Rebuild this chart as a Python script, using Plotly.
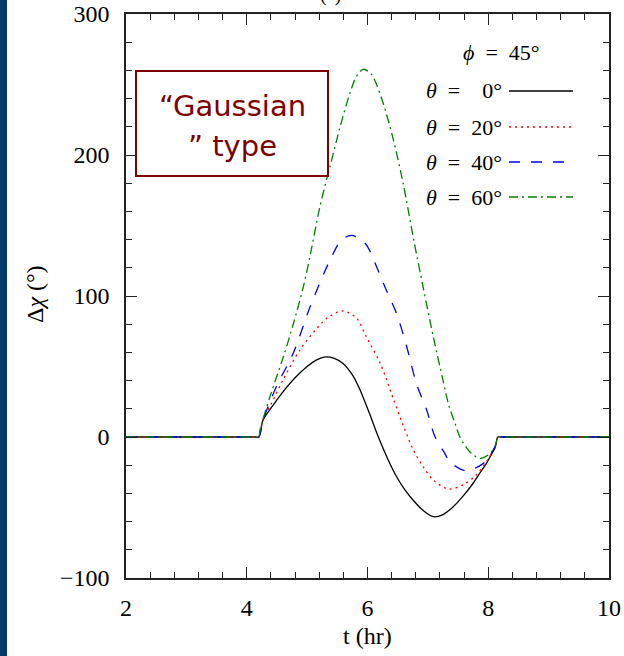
import plotly.graph_objects as go

# ---- data ----
t_th0 = [2, 4.15, 4.2, 4.27, 4.44, 4.6, 4.8, 5.0, 5.15, 5.28, 5.45, 5.6, 5.75, 5.87, 6.03, 6.18, 6.33, 6.48, 6.62, 6.76, 6.92, 7.09, 7.25, 7.42, 7.6, 7.75, 7.87, 7.97, 8.05, 8.11, 8.16, 8.2, 10]
v_th0 = [0, 0, 0, 12, 22.7, 32, 42, 50, 54.5, 56.7, 55.8, 52, 44, 34, 17, 0, -15, -28, -37.5, -45, -52, -56.5, -55, -49.4, -41, -32.8, -25, -18.7, -12.5, -8, 0, 0, 0]

t_th20 = [2, 4.15, 4.2, 4.27, 4.41, 4.6, 4.88, 5.16, 5.35, 5.59, 5.82, 5.98, 6.21, 6.43, 6.62, 6.76, 6.92, 7.09, 7.34, 7.58, 7.8, 7.97, 8.11, 8.16, 8.2, 10]
v_th20 = [0, 0, 0, 12.5, 23.9, 40.4, 61.7, 77, 85, 89.4, 84.2, 71.1, 52.3, 27, 5, -9.2, -21, -30.5, -36.9, -34, -27, -17.5, -7, 0, 0, 0]

t_th40 = [2, 4.15, 4.2, 4.27, 4.49, 4.77, 5.05, 5.38, 5.57, 5.74, 5.96, 6.15, 6.31, 6.48, 6.65, 6.81, 6.98, 7.12, 7.28, 7.36, 7.63, 7.92, 8.03, 8.11, 8.16, 8.2, 10]
v_th40 = [0, 0, 0, 12, 35.7, 59.4, 92.4, 125.5, 139.7, 143, 137.4, 120.8, 104.3, 87.7, 64, 38, 19.1, 0, -11.6, -17.5, -23.9, -18.7, -12.8, -7, 0, 0, 0]

t_th60 = [2, 4.15, 4.2, 4.22, 4.38, 4.6, 4.77, 4.94, 5.07, 5.21, 5.38, 5.54, 5.71, 5.82, 5.93, 6.05, 6.12, 6.26, 6.43, 6.59, 6.76, 6.92, 7.09, 7.25, 7.35, 7.45, 7.53, 7.61, 7.72, 7.86, 8.0, 8.11, 8.16, 8.2, 10]
v_th60 = [0, 0, 0, 5, 28, 56, 80, 107, 133, 163, 192, 219, 244, 256, 260.8, 258, 253, 236.7, 210.6, 180, 141, 106.6, 71.1, 40.4, 22, 9.7, 0, -5.7, -11.6, -15.1, -12.8, -7, 0, 0, 0]

series_labels = ["<i>θ</i>\u2002=\u2002\u20070°", "<i>θ</i>\u2002=\u200220°", "<i>θ</i>\u2002=\u200240°", "<i>θ</i>\u2002=\u200260°"]
phi_label = "<i>ϕ</i>\u2002=\u200245°"
x_ticks = [2, 4, 6, 8, 10]
y_ticks = [-100, 0, 100, 200, 300]

series = [
    (t_th0, v_th0, "#000000", "solid"),
    (t_th20, v_th20, "#ff0000", "2px,4px"),
    (t_th40, v_th40, "#0000ff", "11px,11px"),
    (t_th60, v_th60, "#008000", "9px,4px,2px,4px"),
]

SERIF = "Liberation Serif"

fig = go.Figure()
for t, v, c, d in series:
    fig.add_trace(go.Scatter(x=t, y=v, mode="lines", showlegend=False,
                             line=dict(color=c, width=1.3, dash=d, shape="spline", smoothing=0.9)))

# plot-area geometry (pixels) used to place decorations in paper coordinates
L, R, T, B = 126, 609, 14, 578
W, H = R - L, B - T
def px(x):
    return (x - L) / W
def py(y):
    return (B - y) / H

shapes = []
shapes.append(dict(type="rect", xref="paper", yref="paper", x0=px(0), x1=px(7), y0=py(660), y1=py(-4),
                   fillcolor="#003a6c", line=dict(width=0), layer="below"))
shapes.append(dict(type="rect", xref="paper", yref="paper", x0=px(136), x1=px(328), y0=py(176), y1=py(71),
                   fillcolor="white", line=dict(color="#800000", width=2)))
rows = [91, 127, 162, 197]
for (t, v, c, d), ry in zip(series, rows):
    shapes.append(dict(type="line", xref="paper", yref="paper", x0=px(509), x1=px(573), y0=py(ry), y1=py(ry),
                       line=dict(color=c, width=1.3, dash=d)))

ann = []
ann.append(dict(text=phi_label, xref="paper", yref="paper", x=px(501), y=py(52), showarrow=False,
                xanchor="center", yanchor="middle", font=dict(family=SERIF, size=22, color="black")))
for lab, ry in zip(series_labels, rows):
    ann.append(dict(text=lab, xref="paper", yref="paper", x=px(504), y=py(ry), showarrow=False,
                    xanchor="right", yanchor="middle", font=dict(family=SERIF, size=22, color="black")))
ann.append(dict(text="\u201cGaussian", xref="paper", yref="paper", x=px(232), y=py(106), showarrow=False,
                xanchor="center", yanchor="middle", font=dict(family="DejaVu Sans", size=29, color="#800000")))
ann.append(dict(text="\u201d type", xref="paper", yref="paper", x=px(232), y=py(146), showarrow=False,
                xanchor="center", yanchor="middle", font=dict(family="DejaVu Sans", size=29, color="#800000")))
ann.append(dict(text="t (hr)", xref="paper", yref="paper", x=px(367), y=py(636), showarrow=False,
                xanchor="center", yanchor="middle", font=dict(family=SERIF, size=24, color="black")))
ann.append(dict(text="Δ<i>χ</i> (°)", xref="paper", yref="paper", x=px(35), y=py(294), showarrow=False,
                textangle=-90, xanchor="center", yanchor="middle", font=dict(family=SERIF, size=24, color="black")))
ann.append(dict(text="(°)", xref="paper", yref="paper", x=px(330), y=py(8), showarrow=False,
                xanchor="center", yanchor="bottom", font=dict(family=SERIF, size=20, color="black")))

fig.update_layout(
    width=624, height=656,
    margin=dict(l=L, r=624 - R, t=T, b=656 - B, autoexpand=False),
    plot_bgcolor="white", paper_bgcolor="white",
    shapes=shapes, annotations=ann,
    showlegend=False,
)
common = dict(ticks="inside", ticklen=11, tickwidth=1, tickcolor="#222", showline=True, linecolor="#222",
              linewidth=1.5, mirror="allticks", showgrid=False, zeroline=False, automargin=False,
              tickfont=dict(family=SERIF, size=24, color="black"))
fig.update_xaxes(range=[2, 10], tickvals=x_ticks, ticklabelstandoff=7,
                 minor=dict(dtick=0.4, tick0=2, ticks="inside", ticklen=6, tickcolor="#222", showgrid=False),
                 **common)
fig.update_yaxes(range=[-100, 300], tickvals=y_ticks, ticklabelstandoff=10,
                 minor=dict(dtick=20, tick0=0, ticks="inside", ticklen=6, tickcolor="#222", showgrid=False),
                 **common)

fig.write_html("out.html")
